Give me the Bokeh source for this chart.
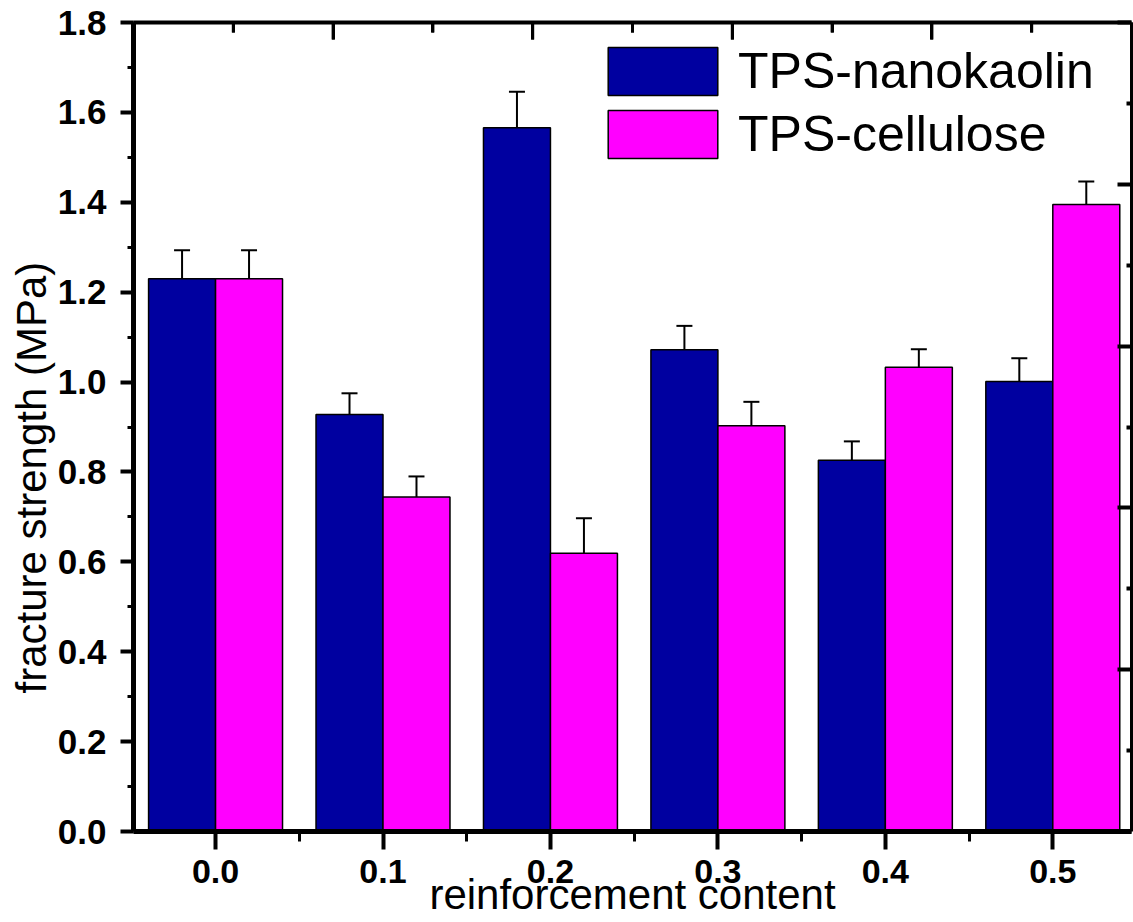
import math
from bokeh.plotting import figure
from bokeh.models import (ColumnDataSource, Range1d, LinearAxis, SingleIntervalTicker, FixedTicker,
                          NumeralTickFormatter, CustomJSTickFormatter, Whisker, TeeHead, Legend,
                          LegendItem, Title)
from bokeh.embed import file_html
from bokeh.resources import INLINE

# ---- data ----
content = [0.0, 0.1, 0.2, 0.3, 0.4, 0.5]
tick_labels = ["0.0", "0.1", "0.2", "0.3", "0.4", "0.5"]
nanokaolin = [1.23, 0.928, 1.566, 1.072, 0.826, 1.001]
nanokaolin_err = [0.063, 0.047, 0.080, 0.053, 0.042, 0.052]
cellulose = [1.23, 0.744, 0.619, 0.903, 1.033, 1.395]
cellulose_err = [0.063, 0.046, 0.078, 0.053, 0.040, 0.051]
series_names = ["TPS-nanokaolin", "TPS-cellulose"]
x_title = "reinforcement content"
y_title = "fracture strength (MPa)"

NAVY = "#0000A0"
MAGENTA = "#FF00FF"
BAR_W = 0.04
FONT = "Liberation Sans"
X0, X1 = -0.049, 0.547
Y0, Y1 = 0.0, 1.8

W, H = 1133, 922
LEFT, TOP, BOTTOM, RIGHT = 133, 22, 91, 2
FRAME_H = H - TOP - BOTTOM

p = figure(width=W, height=H, x_range=Range1d(X0, X1), y_range=Range1d(Y0, Y1),
           output_backend="svg", toolbar_location=None,
           min_border_left=LEFT, min_border_right=RIGHT, min_border_top=TOP, min_border_bottom=BOTTOM,
           background_fill_color="white", border_fill_color="white")
p.outline_line_color = None
p.xgrid.visible = False
p.ygrid.visible = False

src = ColumnDataSource(dict(
    xn=[c - BAR_W / 2 for c in content],
    xc=[c + BAR_W / 2 for c in content],
    n=nanokaolin, c=cellulose,
    nu=[v + e for v, e in zip(nanokaolin, nanokaolin_err)],
    nl=[v - e for v, e in zip(nanokaolin, nanokaolin_err)],
    cu=[v + e for v, e in zip(cellulose, cellulose_err)],
    cl=[v - e for v, e in zip(cellulose, cellulose_err)],
))

r1 = p.vbar(x="xn", top="n", width=BAR_W, bottom=0, source=src,
            fill_color=NAVY, line_color="black", line_width=1.5)
r2 = p.vbar(x="xc", top="c", width=BAR_W, bottom=0, source=src,
            fill_color=MAGENTA, line_color="black", line_width=1.5)

for base, up, lo in (("xn", "nu", "nl"), ("xc", "cu", "cl")):
    w = Whisker(source=src, base=base, upper=up, lower=lo, line_width=2, line_color="black",
                upper_head=TeeHead(size=16, line_width=2, line_color="black"),
                lower_head=TeeHead(size=16, line_width=2, line_color="black"))
    p.add_layout(w)

# ---- left axis ----
ya = p.yaxis[0]
ya.ticker = SingleIntervalTicker(interval=0.2, num_minor_ticks=2)
ya.formatter = NumeralTickFormatter(format="0.0")
ya.major_label_text_font = FONT
ya.major_label_text_font_style = "bold"
ya.major_label_text_font_size = "35px"
ya.major_label_text_color = "black"
ya.major_tick_out = 13
ya.major_tick_in = 0
ya.minor_tick_out = 6
ya.minor_tick_in = 0
ya.major_tick_line_width = 4
ya.minor_tick_line_width = 3
ya.axis_line_width = 5
ya.major_label_standoff = 14

# ---- bottom axis ----
xa = p.xaxis[0]
minor = [(a + b) / 2 for a, b in zip(content, content[1:])]
xa.ticker = FixedTicker(ticks=content, minor_ticks=minor)
xa.major_label_overrides = {c: t for c, t in zip(content, tick_labels)}
xa.major_label_text_font = FONT
xa.major_label_text_font_style = "bold"
xa.major_label_text_font_size = "34px"
xa.major_label_text_color = "black"
xa.major_tick_out = 18
xa.major_tick_in = 0
xa.minor_tick_out = 10
xa.minor_tick_in = 0
xa.major_tick_line_width = 4
xa.minor_tick_line_width = 3
xa.axis_line_width = 5
xa.major_label_standoff = 10
xa.axis_label = x_title
xa.axis_label_text_font = FONT
xa.axis_label_text_font_style = "normal"
xa.axis_label_text_font_size = "42px"
xa.axis_label_text_color = "black"
xa.axis_label_standoff = -15

# ---- top & right decorative (unlabelled) axes of the original layer ----
blank = CustomJSTickFormatter(code="return ''")
top_pos = [X0 + (X1 - X0) * k / 10 for k in range(11)]   # 10 equal divisions of the frame
top = LinearAxis(ticker=FixedTicker(ticks=top_pos[0::2], minor_ticks=top_pos[1::2]),
                 formatter=blank,
                 major_tick_in=17, major_tick_out=0, minor_tick_in=10, minor_tick_out=0,
                 major_tick_line_width=3, minor_tick_line_width=3, axis_line_width=4,
                 major_label_standoff=0, axis_label_standoff=0)
p.add_layout(top, "above")

# inward tick marks hanging from the top frame edge (lengths converted from px to data units)
px_to_y = (Y1 - Y0) / FRAME_H
tick_src = ColumnDataSource(dict(
    x=top_pos[1:-1],
    y0=[Y1] * 9,
    y1=[Y1 - (17 if k % 2 == 0 else 10) * px_to_y for k in range(1, 10)],
))
p.segment(x0="x", x1="x", y0="y0", y1="y1", source=tick_src, line_color="black",
          line_width=3, level="overlay")

p.extra_y_ranges = {"righty": Range1d(0, 5)}
right = LinearAxis(y_range_name="righty",
                   ticker=FixedTicker(ticks=[0, 1, 2, 3, 4, 5], minor_ticks=[0.5, 1.5, 2.5, 3.5, 4.5]),
                   formatter=blank,
                   major_tick_in=14, major_tick_out=0, minor_tick_in=5, minor_tick_out=0,
                   major_tick_line_width=4, minor_tick_line_width=4, axis_line_width=3,
                   major_label_standoff=0, axis_label_standoff=0)
p.add_layout(right, "right")

# ---- y title (left panel, shifted down like the reference) ----
p.add_layout(Title(text=y_title, align="left", offset=138, standoff=0,
                   text_font=FONT, text_font_style="normal", text_font_size="42px",
                   text_color="black"), "left")

# ---- legend ----
legend = Legend(items=[LegendItem(label=series_names[0], renderers=[r1]),
                       LegendItem(label=series_names[1], renderers=[r2])],
                location=(594 - LEFT, (H - BOTTOM) - 164),
                glyph_width=137, glyph_height=60, label_standoff=7, spacing=3, padding=0, margin=0,
                label_text_font=FONT, label_text_font_size="50px", label_text_color="black",
                border_line_alpha=0, background_fill_alpha=0)
p.add_layout(legend)

open("out.html", "w").write(file_html(p, INLINE))
